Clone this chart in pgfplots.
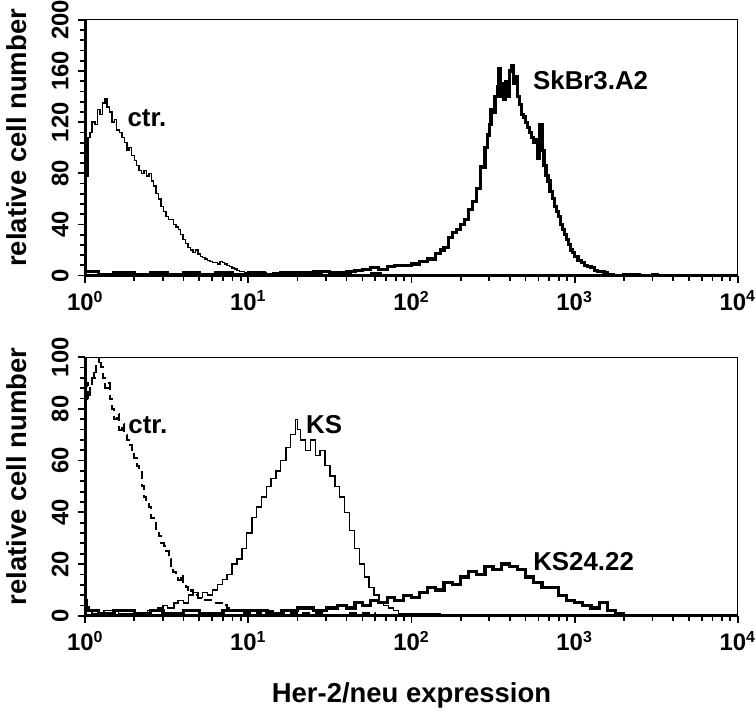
\documentclass[border=0pt]{standalone}
\usepackage{pgfplots}
\pgfplotsset{compat=1.18}
\usepackage{fontspec}
\setmainfont{Liberation Sans}
\newcommand\lab{\fontsize{13}{15}\selectfont\bfseries}
\newcommand\tlab{\fontsize{12}{14}\selectfont\bfseries}
\newcommand\alab{\fontsize{13.8}{16}\selectfont\bfseries}
\newcommand\tenp[1]{10\textsuperscript{#1}}

\tikzset{
 thinline/.style={const plot, black, line width=0.7pt},
 thickline/.style={const plot, black, line width=1.6pt},
}

\begin{document}
\begin{tikzpicture}
\begin{axis}[name=top, xmode=log, scale only axis, width=328pt, height=128.5pt,
  at={(0pt,0pt)}, anchor=south west,
  xmin=1, xmax=10000, ymin=0, ymax=200,
  xtick={1,10,100,1000,10000},
  xticklabels={\tenp{0},\tenp{1},\tenp{2},\tenp{3},\tenp{4}},
  ytick={0,40,80,120,160,200}, yticklabels={0,40,80,120,160,200}, minor y tick num=4,
  tick align=outside, xtick pos=left, ytick pos=left,
  major tick length=3.5pt, minor tick length=2.5pt,
  every tick/.style={black, line width=0.9pt},
  axis line style={line width=0.5pt},
  ticklabel style={font=\tlab},
  xticklabel style={anchor=north, inner sep=0pt, yshift=-4pt},
  yticklabel style={anchor=base, inner sep=0pt, xshift=-5pt, rotate=90},
  ylabel={relative cell number},
  ylabel style={at={([xshift=-29.5pt,yshift=5pt]axis description cs:0,0.5)}, anchor=base, font=\alab},
  after end axis/.code={\draw[line width=1.3pt] (rel axis cs:0,1) -- (rel axis cs:0,0) -- (rel axis cs:1,0);},
]
% SkBr3.A2
\addplot[thickline] table {
x y
1.00 3
1.2 1
1.5 2
2.0 1
2.5 2
3.2 1
4.0 2
5.0 1
6.3 2
8.0 1
10 2
12.6 1
15.8 2
20 2
25 3
31.6 2
40 3
45 4
50 5
56 6
63 5
71 7
79 8
89 8
100 9
112 11
126 13
141 17
150 20
158 22
168 30
178 34
188 36
200 40
211 44
224 52
237 58
251 68
266 85
282 100
292 110
299 118
307 130
316 128
325 140
335 148
344 162
350 140
355 150
365 138
376 152
387 140
398 160
410 164
422 150
434 156
447 140
460 134
473 126
487 124
501 120
516 116
531 112
546 108
562 104
578 106
595 92
612 118
630 98
649 86
668 78
687 74
707 66
728 60
750 54
771 50
794 46
818 40
841 36
866 32
891 28
917 24
944 20
972 18
1000 15
1047 12
1096 10
1148 8
1202 7
1259 6
1318 4
1380 3
1445 3
1513 2
1585 1
1660 1
1738 0
2000 1
2500 0
3000 1
3200 0
10000 0
};
% ctr
\addplot[thinline] table {
x y
1.00 165
1.02 78
1.04 108
1.07 112
1.10 120
1.15 118
1.19 130
1.23 126
1.28 135
1.32 138
1.36 132
1.41 128
1.46 120
1.51 122
1.56 114
1.62 112
1.68 108
1.74 104
1.80 98
1.86 100
1.93 94
2.00 90
2.07 86
2.14 82
2.22 80
2.29 82
2.37 78
2.46 80
2.54 74
2.63 70
2.72 64
2.82 60
2.92 54
3.02 50
3.13 46
3.24 44
3.35 44
3.47 40
3.60 38
3.72 36
3.85 32
3.98 28
4.12 25
4.27 22
4.42 20
4.57 18
4.73 20
4.90 17
5.07 15
5.25 14
5.43 13
5.62 12
5.82 11
6.03 10
6.24 10
6.46 9
6.69 11
6.92 10
7.16 9
7.41 8
7.67 7
7.94 6
8.22 5
8.51 4
8.81 3
9.12 3
9.44 2
9.77 2
10.5 1
11.5 2
12.9 1
14.1 2
16.2 1
18.6 2
21.4 1
24.6 2
28.2 1
32.4 1
37.2 2
42.7 1
49 1
56 2
65 1
75 1
87 0
100 1
150 0
10000 0
};
\node[font=\lab] at (axis cs:2.39,123) {ctr.};
\node[font=\lab] at (axis cs:1253,153) {SkBr3.A2};
\end{axis}

\begin{axis}[xmode=log, scale only axis, width=328pt, height=130pt,
  at={(0pt,-41pt)}, anchor=north west,
  xmin=1, xmax=10000, ymin=0, ymax=100,
  xtick={1,10,100,1000,10000},
  xticklabels={\tenp{0},\tenp{1},\tenp{2},\tenp{3},\tenp{4}},
  ytick={0,20,40,60,80,100}, yticklabels={0,20,40,60,80,100}, minor y tick num=4,
  tick align=outside, xtick pos=left, ytick pos=left,
  major tick length=3.5pt, minor tick length=2.5pt,
  every tick/.style={black, line width=0.9pt},
  axis line style={line width=0.5pt},
  ticklabel style={font=\tlab},
  xticklabel style={anchor=north, inner sep=0pt, yshift=-4pt},
  yticklabel style={anchor=base, inner sep=0pt, xshift=-5pt, rotate=90},
  ylabel={relative cell number},
  ylabel style={at={([xshift=-29.5pt,yshift=5pt]axis description cs:0,0.5)}, anchor=base, font=\alab},
  xlabel={Her-2/neu expression},
  xlabel style={at={([yshift=-43.5pt]axis description cs:0.5,0)}, anchor=base, font=\alab},
  after end axis/.code={\draw[line width=1.3pt] (rel axis cs:0,1) -- (rel axis cs:0,0) -- (rel axis cs:1,0);},
]
% KS24.22
\addplot[thickline] table {
x y
1.0 6
1.02 3
1.05 2
1.2 1
1.5 2
2 1
2.5 2
3 1
4 2
5 1
7 2
10 2
13 1
16 2
20 3
25 2
30 3
35 4
40 3
45 5
50 4
56 6
63 5
71 7
79 6
89 8
100 7
112 9
126 11
141 10
158 13
178 12
200 15
224 17
251 16
282 19
316 18
355 20
398 19
447 18
501 15
562 13
631 11
708 11
794 8
891 6
1000 5
1122 4
1259 3
1413 5
1585 2
1778 1
2000 0
10000 0
};
% KS
\addplot[thinline] table {
x y
1.00 5
1.03 2
1.1 1
1.3 2
1.6 1
2.0 1
2.4 2
2.8 3
3.0 4
3.2 3
3.5 5
3.7 6
4.0 5
4.3 8
4.6 9
4.9 7
5.25 9
5.62 8
6.03 10
6.46 12
6.92 14
7.41 16
7.94 20
8.51 22
9.12 26
9.77 32
10.5 38
11.2 42
12.0 46
12.9 50
13.8 53
14.8 56
15.8 60
17.0 65
18.2 70
19.5 76
20.0 72
20.9 68
22.4 64
24.0 68
25.7 62
27.5 64
29.5 58
31.6 54
33.9 50
36.3 46
38.9 40
41.7 33
44.7 26
47.9 20
51.3 15
55.0 11
58.9 8
63.1 5
67.6 4
72.4 3
77.6 2
83.2 1
100 1
150 0
10000 0
};
% ctr dashed
\addplot[const plot, black, line width=1pt, dash pattern=on 4pt off 2.5pt] table {
x y
1.00 84
1.02 90
1.04 84
1.07 88
1.10 94
1.13 92
1.17 98
1.21 100
1.25 96
1.29 92
1.33 88
1.37 90
1.41 84
1.46 80
1.51 76
1.56 78
1.62 72
1.68 74
1.74 70
1.80 68
1.86 66
1.93 64
2.00 61
2.07 58
2.14 56
2.22 50
2.29 46
2.37 44
2.46 42
2.54 38
2.63 36
2.72 33
2.82 31
2.92 28
3.02 27
3.13 25
3.24 22
3.35 19
3.47 17
3.60 16
3.72 14
3.85 16
3.98 13
4.12 11
4.27 9
4.42 10
4.57 8
4.90 7
5.25 6
5.62 6
6.03 5
6.46 5
6.92 4
7.41 3
7.94 2
8.51 2
9.12 1
10 1
12 2
15 1
20 1
30 0
40 1
60 0
200 0
};
\node[font=\lab] at (axis cs:2.42,73.5) {ctr.};
\node[font=\lab] at (axis cs:29.1,74) {KS};
\node[font=\lab] at (axis cs:1135,21) {KS24.22};
\end{axis}
\end{tikzpicture}
\end{document}
